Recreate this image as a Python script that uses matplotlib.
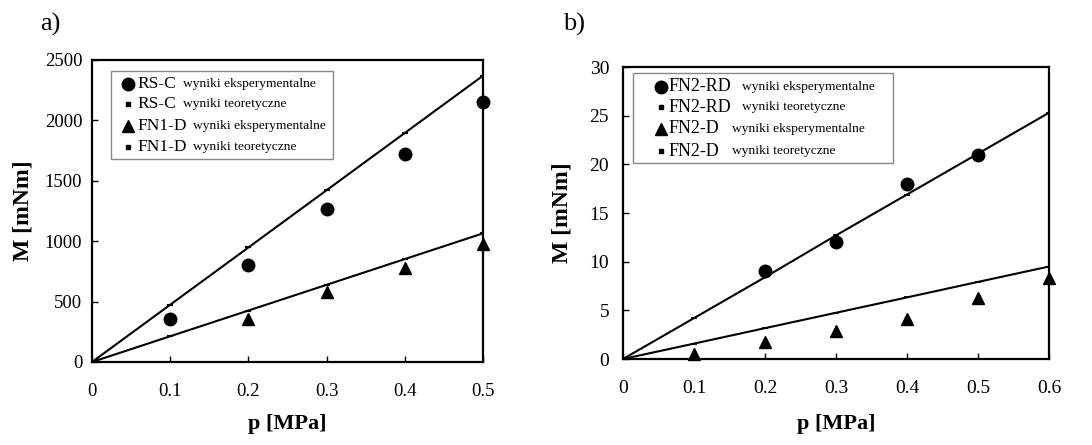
import matplotlib
matplotlib.use("Agg")
import matplotlib.pyplot as plt

plt.rcParams['font.family'] = ['Liberation Serif', 'DejaVu Serif']

# ---- panel a data ----
p_a_theory = [0.0, 0.1, 0.2, 0.3, 0.4, 0.5]
rsc_theory = [0, 474, 948, 1422, 1896, 2370]
fn1d_theory = [0, 213, 426, 639, 852, 1065]
p_a_rsc = [0.1, 0.2, 0.3, 0.4, 0.5]
rsc_exp = [360, 800, 1270, 1720, 2150]
p_a_fn1d = [0.2, 0.3, 0.4, 0.5]
fn1d_exp = [360, 580, 780, 980]
a_xticks = [0, 0.1, 0.2, 0.3, 0.4, 0.5]
a_xticklabels = ["0", "0.1", "0.2", "0.3", "0.4", "0.5"]
a_yticks = [0, 500, 1000, 1500, 2000, 2500]

# ---- panel b data ----
p_b_theory = [0.0, 0.1, 0.2, 0.3, 0.4, 0.5, 0.6]
fn2rd_theory = [0, 4.2, 8.4, 12.7, 16.9, 21.1, 25.3]
fn2d_theory = [0, 1.58, 3.17, 4.75, 6.33, 7.92, 9.5]
p_b_fn2rd = [0.2, 0.3, 0.4, 0.5]
fn2rd_exp = [9, 12, 18, 21]
p_b_fn2d = [0.1, 0.2, 0.3, 0.4, 0.5, 0.6]
fn2d_exp = [0.5, 1.7, 2.9, 4.1, 6.3, 8.3]
b_xticks = [0, 0.1, 0.2, 0.3, 0.4, 0.5, 0.6]
b_xticklabels = ["0", "0.1", "0.2", "0.3", "0.4", "0.5", "0.6"]
b_yticks = [0, 5, 10, 15, 20, 25, 30]

W, H = 1092, 445
fig = plt.figure(figsize=(W / 100, H / 100), dpi=100)

def rect(l, r, t, b):
    return [l / W, 1 - b / H, (r - l) / W, (b - t) / H]

axa = fig.add_axes(rect(92, 483, 60, 362))
axb = fig.add_axes(rect(623, 1049, 67, 359))

def style(ax, tick_fs, xpad, ypad):
    for s in ax.spines.values():
        s.set_linewidth(1.6)
    ax.tick_params(direction='in', length=4, width=1, labelsize=tick_fs)
    ax.tick_params(axis='x', pad=xpad)
    ax.tick_params(axis='y', pad=ypad)

# panel a
axa.plot(p_a_theory, rsc_theory, color='black', lw=1.5, marker='_', ms=5, mew=1.5)
axa.plot(p_a_theory, fn1d_theory, color='black', lw=1.5, marker='_', ms=5, mew=1.5)
axa.plot(p_a_rsc, rsc_exp, 'o', color='black', ms=9, clip_on=False)
axa.plot(p_a_fn1d, fn1d_exp, '^', color='black', ms=9, clip_on=False)
axa.set_xlim(0, 0.5)
axa.set_ylim(0, 2500)
axa.set_xticks(a_xticks)
axa.set_xticklabels(a_xticklabels)
axa.set_yticks(a_yticks)
style(axa, 13.5, 15, 7)
axa.set_xlabel("p [MPa]", fontsize=16, fontweight='bold', labelpad=10)
axa.set_ylabel("M [mNm]", fontsize=17, fontweight='bold', labelpad=8)

# panel b
axb.plot(p_b_theory, fn2rd_theory, color='black', lw=1.5, marker='_', ms=4, mew=1.2)
axb.plot(p_b_theory, fn2d_theory, color='black', lw=1.5, marker='_', ms=4, mew=1.2)
axb.plot(p_b_fn2rd, fn2rd_exp, 'o', color='black', ms=9, clip_on=False)
axb.plot(p_b_fn2d, fn2d_exp, '^', color='black', ms=9, clip_on=False)
axb.set_xlim(0, 0.6)
axb.set_ylim(0, 30)
axb.set_xticks(b_xticks)
axb.set_xticklabels(b_xticklabels)
axb.set_yticks(b_yticks)
style(axb, 14, 15, 10)
axb.set_xlabel("p [MPa]", fontsize=16, fontweight='bold', labelpad=12)
axb.set_ylabel("M [mNm]", fontsize=17, fontweight='bold', labelpad=12)

# manual legends
def legend(ax, box, rows, mx, lx, wx, name_fs):
    l, r, t, b = box
    ax.add_patch(plt.Rectangle((l, b), r - l, t - b, transform=ax.transAxes,
                               facecolor='white', edgecolor='#888888', lw=1.0, zorder=5))
    for (y, mk, name, desc), w in zip(rows, wx):
        if mk == '_':
            ax.plot([mx], [y], marker='s', ms=2.5, color='black', transform=ax.transAxes,
                    zorder=6, clip_on=False)
        else:
            ax.plot([mx], [y], marker=mk, ms=9, color='black', transform=ax.transAxes,
                    zorder=6, clip_on=False)
        ax.text(lx, y, name, transform=ax.transAxes, fontsize=name_fs, va='center', ha='left', zorder=6)
        ax.text(w, y, desc, transform=ax.transAxes, fontsize=9.7, va='center', ha='left', zorder=6)

legend(axa, (0.049, 0.616, 0.964, 0.672),
       [(0.921, 'o', "RS-C", "wyniki eksperymentalne"),
        (0.854, '_', "RS-C", "wyniki teoretyczne"),
        (0.781, '^', "FN1-D", "wyniki eksperymentalne"),
        (0.712, '_', "FN1-D", "wyniki teoretyczne")],
       0.092, 0.115, [0.233, 0.233, 0.258, 0.258], 12.5)

legend(axb, (0.023, 0.634, 0.979, 0.671),
       [(0.932, 'o', "FN2-RD", "wyniki eksperymentalne"),
        (0.863, '_', "FN2-RD", "wyniki teoretyczne"),
        (0.788, '^', "FN2-D", "wyniki eksperymentalne"),
        (0.712, '_', "FN2-D", "wyniki teoretyczne")],
       0.089, 0.108, [0.279, 0.279, 0.256, 0.256], 13)

fig.text(40 / W, 1 - 24 / H, "a)", fontsize=19, va='center', ha='left')
fig.text(563 / W, 1 - 24 / H, "b)", fontsize=19, va='center', ha='left')

fig.savefig("out.png", dpi=100)
